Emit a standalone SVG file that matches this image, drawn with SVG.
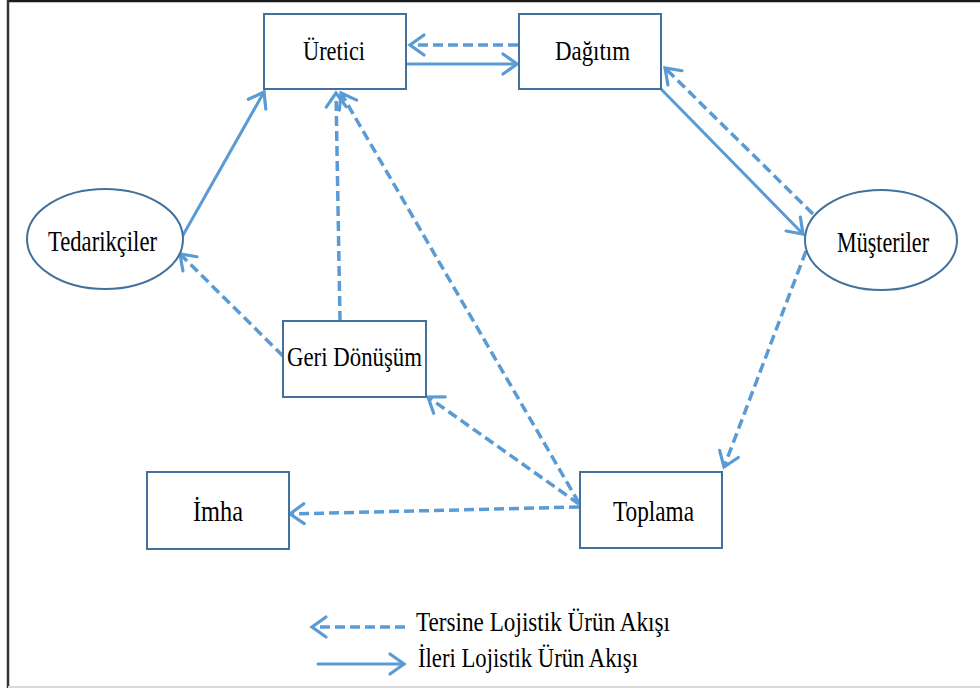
<svg xmlns="http://www.w3.org/2000/svg" width="980" height="688" viewBox="0 0 980 688">
<style>
.box{fill:#fff;stroke:#41719C;stroke-width:2}
.lbl{font-family:"Liberation Serif","Times New Roman",serif;fill:#000;text-anchor:start}
.fw{fill:none;stroke:#5B9BD5;stroke-width:3;stroke-linecap:round}
.rv{fill:none;stroke:#5B9BD5;stroke-width:3.5;stroke-dasharray:10 5}
</style>
<defs>
<marker id="ah" markerUnits="userSpaceOnUse" viewBox="-18 -13 22 26" refX="0" refY="0" markerWidth="22" markerHeight="26" orient="auto">
<path d="M-14,-10 L0,0 L-14,10" fill="none" stroke="#5B9BD5" stroke-width="3.2" stroke-linecap="round" stroke-linejoin="miter"/>
</marker>
</defs>
<rect x="0" y="0" width="980" height="688" fill="#fff"/>
<line x1="7" y1="1" x2="980" y2="1" stroke="#1a1a1a" stroke-width="2.5"/>
<line x1="8" y1="0" x2="8" y2="688" stroke="#333" stroke-width="2.5"/>
<line x1="8" y1="687" x2="980" y2="687" stroke="#d9d9d9" stroke-width="2"/>

<g id="connectors">
<line class="rv" x1="518" y1="45" x2="410" y2="45" marker-end="url(#ah)"/>
<line class="fw" x1="407" y1="64" x2="517" y2="64" marker-end="url(#ah)"/>
<line class="fw" x1="661" y1="89" x2="803" y2="234" marker-end="url(#ah)"/>
<line class="rv" x1="813" y1="214" x2="665" y2="68" marker-end="url(#ah)"/>
<line class="rv" x1="806" y1="251" x2="724" y2="467" marker-end="url(#ah)"/>
<line class="fw" x1="182" y1="237" x2="264" y2="92" marker-end="url(#ah)"/>
<line class="rv" x1="283" y1="356" x2="180" y2="254" marker-end="url(#ah)"/>
<line class="rv" x1="340" y1="321" x2="336" y2="93" marker-end="url(#ah)"/>
<line class="rv" x1="579" y1="503" x2="341" y2="93" marker-end="url(#ah)"/>
<line class="rv" x1="579" y1="504" x2="428" y2="397" marker-end="url(#ah)"/>
<line class="rv" x1="579" y1="507" x2="290" y2="514" marker-end="url(#ah)"/>
<line class="rv" x1="405" y1="627" x2="312" y2="627" marker-end="url(#ah)"/>
<line class="fw" x1="318" y1="664" x2="404" y2="664" marker-end="url(#ah)"/>
</g>

<g id="uretici">
<rect class="box" x="264" y="14" width="142" height="75"/>
<text class="lbl" x="303" y="60" font-size="27" textLength="62" lengthAdjust="spacingAndGlyphs">Üretici</text>
</g>
<g id="dagitim">
<rect class="box" x="519" y="14" width="142" height="75"/>
<text class="lbl" x="555" y="60" font-size="27" textLength="75" lengthAdjust="spacingAndGlyphs">Dağıtım</text>
</g>
<g id="musteriler">
<ellipse class="box" cx="881" cy="240" rx="76" ry="50"/>
<text class="lbl" x="837" y="252" font-size="29" textLength="92" lengthAdjust="spacingAndGlyphs">Müşteriler</text>
</g>
<g id="tedarikciler">
<ellipse class="box" cx="105" cy="239" rx="78" ry="50"/>
<text class="lbl" x="48" y="251" font-size="29" textLength="109" lengthAdjust="spacingAndGlyphs">Tedarikçiler</text>
</g>
<g id="geri-donusum">
<rect class="box" x="283" y="321" width="143" height="76"/>
<text class="lbl" x="287" y="366" font-size="28" textLength="135" lengthAdjust="spacingAndGlyphs">Geri Dönüşüm</text>
</g>
<g id="imha">
<rect class="box" x="147" y="472" width="142" height="77"/>
<text class="lbl" x="193" y="521" font-size="29" textLength="50" lengthAdjust="spacingAndGlyphs">İmha</text>
</g>
<g id="toplama">
<rect class="box" x="580" y="472" width="142" height="76"/>
<text class="lbl" x="613" y="521" font-size="29" textLength="81" lengthAdjust="spacingAndGlyphs">Toplama</text>
</g>
<g id="legend">
<text class="lbl" x="416" y="631" font-size="27" textLength="254" lengthAdjust="spacingAndGlyphs">Tersine Lojistik Ürün Akışı</text>
<text class="lbl" x="418" y="667" font-size="27" textLength="220" lengthAdjust="spacingAndGlyphs">İleri Lojistik Ürün Akışı</text>
</g>
</svg>
